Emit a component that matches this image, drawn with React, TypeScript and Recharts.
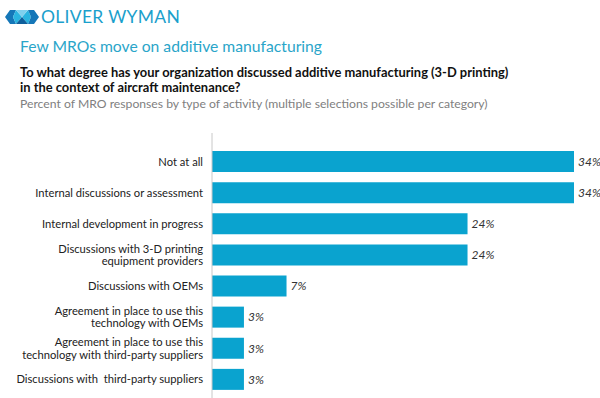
import React from 'react';
import { BarChart, Bar, XAxis, YAxis, LabelList } from 'recharts';

const categories = [
  'Not at all',
  'Internal discussions or assessment',
  'Internal development in progress',
  'Discussions with 3-D printing\nequipment providers',
  'Discussions with OEMs',
  'Agreement in place to use this\ntechnology with OEMs',
  'Agreement in place to use this\ntechnology with third-party suppliers',
  'Discussions with  third-party suppliers',
];
const values = [34, 34, 24, 24, 7, 3, 3, 3];

const data = categories.map((c, i) => ({ name: c, value: values[i] }));

const FONT = 'Lato, "Open Sans", sans-serif';

const CatTick = (props: any) => {
  const { x, y, payload } = props;
  const lines: string[] = String(payload.value).split('\n');
  const lh = 12.5;
  const start = -((lines.length - 1) * lh) / 2;
  return (
    <text x={x} y={y} textAnchor="end" fontFamily={FONT} fontSize={11.2} fill="#222">
      {lines.map((l, i) => (
        <tspan key={i} x={x} dy={i === 0 ? start + 4 : lh} style={{ whiteSpace: 'pre' }}>
          {l}
        </tspan>
      ))}
    </text>
  );
};

const Logo = () => (
  <svg width={34} height={16} viewBox="0 0 34 16" style={{ position: 'absolute', left: 5, top: 9 }}>
    <polygon points="0,8 5,1 11,1 8,8 11,15 5,15" fill="#1577b8" />
    <polygon points="8,8 11,1 17,8 11,15" fill="#2ab4e0" />
    <polygon points="17,8 23,1 26,8 23,15" fill="#2ab4e0" />
    <polygon points="23,1 29,1 34,8 29,15 23,15 26,8" fill="#1577b8" />
    <polygon points="11,1 17,8 23,1" fill="#7fd0ee" />
    <polygon points="11,15 17,8 23,15" fill="#0e5f9c" />
  </svg>
);

export default function App() {
  return (
    <div
      style={{
        position: 'absolute',
        left: 0,
        top: 0,
        width: 600,
        height: 398,
        background: '#fff',
        overflow: 'hidden',
        fontFamily: FONT,
      }}
    >
      <Logo />
      <div
        style={{
          position: 'absolute',
          left: 41,
          top: 6,
          fontSize: 17.5,
          color: '#1aa0cc',
          letterSpacing: 0.3,
          whiteSpace: 'nowrap',
        }}
      >
        OLIVER WYMAN
      </div>
      <div
        style={{
          position: 'absolute',
          left: 20,
          top: 37,
          fontSize: 15.7,
          color: '#2aa5c9',
          whiteSpace: 'nowrap',
        }}
      >
        Few MROs move on additive manufacturing
      </div>
      <div
        style={{
          position: 'absolute',
          left: 20,
          top: 65,
          fontSize: 12.9,
          fontWeight: 700,
          color: '#111',
          lineHeight: '15px',
          whiteSpace: 'nowrap',
        }}
      >
        To what degree has your organization discussed additive manufacturing (3-D printing)
        <br />
        in the context of aircraft maintenance?
      </div>
      <div
        style={{
          position: 'absolute',
          left: 20,
          top: 96,
          fontSize: 12.2,
          color: '#808080',
          whiteSpace: 'nowrap',
        }}
      >
        Percent of MRO responses by type of activity (multiple selections possible per category)
      </div>
      <div style={{ position: 'absolute', left: 0, top: 133 }}>
        <BarChart
          width={600}
          height={265}
          data={data}
          layout="vertical"
          margin={{ top: 0, right: 26, bottom: 0, left: 0 }}
          barSize={21}
        >
          <XAxis type="number" domain={[0, 34]} hide />
          <YAxis
            type="category"
            dataKey="name"
            width={212}
            axisLine={{ stroke: '#c8c8c8', strokeWidth: 1 }}
            tickLine={false}
            tickSize={0}
            tickMargin={9}
            padding={{ top: 13, bottom: 3 }}
            tick={<CatTick />}
            interval={0}
          />
          <Bar dataKey="value" fill="#0aa3cf" isAnimationActive={false}>
            <LabelList
              dataKey="value"
              position="right"
              offset={4}
              formatter={(v: any) => `${v}%`}
              style={{ fontFamily: FONT, fontSize: 12, fontStyle: 'italic', fill: '#333' }}
            />
          </Bar>
        </BarChart>
      </div>
    </div>
  );
}
